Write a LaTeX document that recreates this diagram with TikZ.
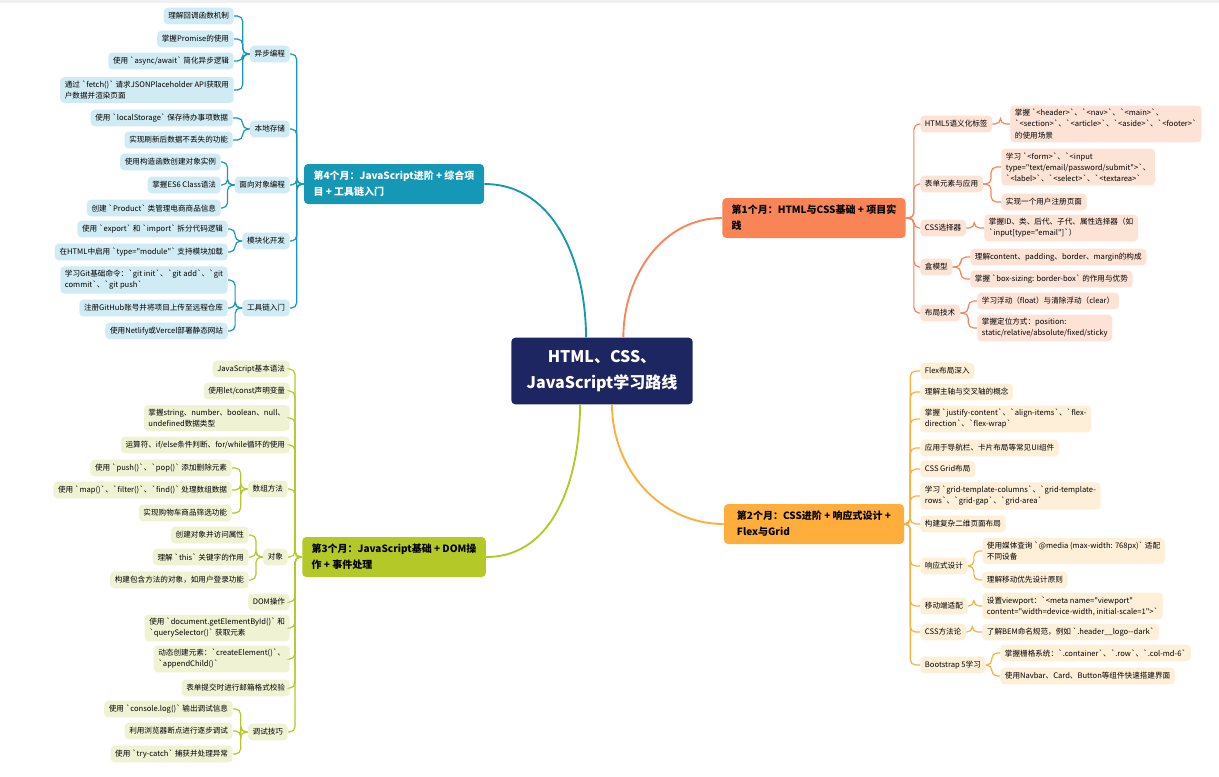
\documentclass[tikz,border=0pt]{standalone}
\usepackage{fontspec}
\newfontfamily\cjk{Noto Sans CJK SC}
\usepackage{xcolor}
\usepackage{tikz}
\usetikzlibrary{calc}
\definecolor{navy}{HTML}{1E2661}
\definecolor{tlD}{HTML}{1597B6}
\definecolor{tlL}{HTML}{D0EBF3}
\definecolor{crD}{HTML}{F98456}
\definecolor{crL}{HTML}{FDE2D6}
\definecolor{ywD}{HTML}{FFAE3C}
\definecolor{ywL}{HTML}{FEF0D8}
\definecolor{gnD}{HTML}{B4C828}
\definecolor{gnL}{HTML}{EFF3D4}

\begin{document}
\begin{tikzpicture}[x=0.75pt, y=-0.75pt,
  leaf/.style={fill=#1, rounded corners=3pt, inner xsep=3.5pt, inner ysep=2.8pt, minimum height=12.5pt, align=left, text=black, font=\cjk\fontsize{5.7}{8.3}\selectfont},
  month/.style={fill=#1, rounded corners=3pt, inner xsep=7pt, inner ysep=5pt, minimum width=135pt, minimum height=30pt, align=left, font=\cjk\bfseries\fontsize{7.5}{12}\selectfont},
  lnk/.style={draw=#1, line width=0.9pt, rounded corners=4pt},
  trunk/.style={draw=#1, line width=1.4pt}]
\useasboundingbox (0,0) rectangle (1219,776);
\fill[gray!12] (0,0) rectangle (1219,3);
% centre
\node[fill=navy, rounded corners=3pt, minimum width=136pt, minimum height=50pt, align=center, text=white, font=\cjk\bfseries\fontsize{12}{20}\selectfont] (c) at (602,371) {HTML、CSS、\\JavaScript学习路线};
\node[month=tlD, text=white] (b4) at (394,184) {第4个月：JavaScript进阶 + 综合项\\目 + 工具链入门};
\node[month=crD] (b1) at (814,218) {第1个月：HTML与CSS基础 + 项目实\\践};
\node[month=ywD] (b2) at (814,524) {第2个月：CSS进阶 + 响应式设计 +\\Flex与Grid};
\node[month=gnD] (b3) at (394,557) {第3个月：JavaScript基础 + DOM操\\作 + 事件处理};
\draw[trunk=tlD] ([xshift=-12pt]c.north) to[out=90, in=0] (b4.east);
\draw[trunk=crD] ([xshift=16pt]c.north) to[out=90, in=180] (b1.west);
\draw[trunk=ywD] ([xshift=7.5pt]c.south) to[out=-90, in=180] (b2.west);
\draw[trunk=gnD] ([xshift=-16.5pt]c.south) to[out=-90, in=0] (b3.east);

% month 4
\node[leaf=tlL, anchor=east] (t1) at (290,54) {异步编程};
\node[leaf=tlL, anchor=east] (t2) at (290,129) {本地存储};
\node[leaf=tlL, anchor=east] (t3) at (290,185) {面向对象编程};
\node[leaf=tlL, anchor=east] (t4) at (290,241) {模块化开发};
\node[leaf=tlL, anchor=east] (t5) at (290,308) {工具链入门};
\node[leaf=tlL, anchor=east] (t11) at (234,16) {理解回调函数机制};
\node[leaf=tlL, anchor=east] (t12) at (234,39) {掌握Promise的使用};
\node[leaf=tlL, anchor=east] (t13) at (234,61) {使用 `async/await` 简化异步逻辑};
\node[leaf=tlL, anchor=east] (t14) at (234,90) {通过 `fetch()` 请求JSONPlaceholder API获取用\\户数据并渲染页面};
\node[leaf=tlL, anchor=east] (t21) at (233,118) {使用 `localStorage` 保存待办事项数据};
\node[leaf=tlL, anchor=east] (t22) at (233,140) {实现刷新后数据不丢失的功能};
\node[leaf=tlL, anchor=east] (t31) at (221,162) {使用构造函数创建对象实例};
\node[leaf=tlL, anchor=east] (t32) at (221,185) {掌握ES6 Class语法};
\node[leaf=tlL, anchor=east] (t33) at (221,208) {创建 `Product` 类管理电商商品信息};
\node[leaf=tlL, anchor=east] (t41) at (228,229) {使用 `export` 和 `import` 拆分代码逻辑};
\node[leaf=tlL, anchor=east] (t42) at (228,252) {在HTML中启用 `type="module"` 支持模块加载};
\node[leaf=tlL, anchor=east] (t51) at (228,280) {学习Git基础命令：`git init`、`git add`、`git\\commit`、`git push`};
\node[leaf=tlL, anchor=east] (t52) at (228,308) {注册GitHub账号并将项目上传至远程仓库};
\node[leaf=tlL, anchor=east] (t53) at (228,331) {使用Netlify或Vercel部署静态网站};
\foreach \a/\b in {b4/t1,b4/t2,b4/t3,b4/t4,b4/t5,t1/t11,t1/t12,t1/t13,t1/t14,t2/t21,t2/t22,t3/t31,t3/t32,t3/t33,t4/t41,t4/t42,t5/t51,t5/t52,t5/t53}
  \draw[lnk=tlD] (\a.west) -- ++(-7,0) |- (\b.east);

% month 3
\node[leaf=gnL, anchor=east] (g1) at (290,369) {JavaScript基本语法};
\node[leaf=gnL, anchor=east] (g2) at (290,391) {使用let/const声明变量};
\node[leaf=gnL, anchor=east] (g3) at (290,418) {掌握string、number、boolean、null、\\undefined数据类型};
\node[leaf=gnL, anchor=east] (g4) at (290,445) {运算符、if/else条件判断、for/while循环的使用};
\node[leaf=gnL, anchor=east] (g5) at (288,489) {数组方法};
\node[leaf=gnL, anchor=east] (g6) at (288,557) {对象};
\node[leaf=gnL, anchor=east] (g7) at (290,602) {DOM操作};
\node[leaf=gnL, anchor=east] (g8) at (290,628) {使用 `document.getElementById()` 和\\`querySelector()` 获取元素};
\node[leaf=gnL, anchor=east] (g9) at (290,659) {动态创建元素：`createElement()`、\\`appendChild()`};
\node[leaf=gnL, anchor=east] (g10) at (290,688) {表单提交时进行邮箱格式校验};
\node[leaf=gnL, anchor=east] (g11) at (288,732) {调试技巧};
\node[leaf=gnL, anchor=east] (g51) at (232,468) {使用 `push()`、`pop()` 添加删除元素};
\node[leaf=gnL, anchor=east] (g52) at (232,490) {使用 `map()`、`filter()`、`find()` 处理数组数据};
\node[leaf=gnL, anchor=east] (g53) at (232,513) {实现购物车商品筛选功能};
\node[leaf=gnL, anchor=east] (g61) at (249,535) {创建对象并访问属性};
\node[leaf=gnL, anchor=east] (g62) at (249,557) {理解 `this` 关键字的作用};
\node[leaf=gnL, anchor=east] (g63) at (249,580) {构建包含方法的对象，如用户登录功能};
\node[leaf=gnL, anchor=east] (g111) at (233,709) {使用 `console.log()` 输出调试信息};
\node[leaf=gnL, anchor=east] (g112) at (233,731) {利用浏览器断点进行逐步调试};
\node[leaf=gnL, anchor=east] (g113) at (233,754) {使用 `try-catch` 捕获并处理异常};
\foreach \a/\b in {b3/g1,b3/g2,b3/g3,b3/g4,b3/g5,b3/g6,b3/g7,b3/g8,b3/g9,b3/g10,b3/g11,g5/g51,g5/g52,g5/g53,g6/g61,g6/g62,g6/g63,g11/g111,g11/g112,g11/g113}
  \draw[lnk=gnD] (\a.west) -- ++(-7,0) |- (\b.east);

% month 1
\node[leaf=crL, anchor=west] (o1) at (920,124) {HTML5语义化标签};
\node[leaf=crL, anchor=west] (o2) at (920,184) {表单元素与应用};
\node[leaf=crL, anchor=west] (o3) at (920,228) {CSS选择器};
\node[leaf=crL, anchor=west] (o4) at (920,267) {盒模型};
\node[leaf=crL, anchor=west] (o5) at (920,313) {布局技术};
\node[leaf=crL, anchor=west] (o11) at (1010,124) {掌握 `<header>`、`<nav>`、`<main>`、\\`<section>`、`<article>`、`<aside>`、`<footer>`\\的使用场景};
\node[leaf=crL, anchor=west] (o21) at (1001,167) {学习 `<form>`、`<input\\type="text/email/password/submit">`、\\`<label>`、`<select>`、`<textarea>`};
\node[leaf=crL, anchor=west] (o22) at (1001,202) {实现一个用户注册页面};
\node[leaf=crL, anchor=west] (o31) at (984,228) {掌握ID、类、后代、子代、属性选择器（如\\`input[type="email"]`）};
\node[leaf=crL, anchor=west] (o41) at (970,257) {理解content、padding、border、margin的构成};
\node[leaf=crL, anchor=west] (o42) at (970,279) {掌握 `box-sizing: border-box` 的作用与优势};
\node[leaf=crL, anchor=west] (o51) at (977,301) {学习浮动（float）与清除浮动（clear）};
\node[leaf=crL, anchor=west] (o52) at (977,328) {掌握定位方式：position:\\static/relative/absolute/fixed/sticky};
\foreach \a/\b in {b1/o1,b1/o2,b1/o3,b1/o4,b1/o5,o1/o11,o2/o21,o2/o22,o3/o31,o4/o41,o4/o42,o5/o51,o5/o52}
  \draw[lnk=crD] (\a.east) -- ++(8,0) |- (\b.west);

% month 2
\node[leaf=ywL, anchor=west] (y1) at (920,371) {Flex布局深入};
\node[leaf=ywL, anchor=west] (y2) at (920,392) {理解主轴与交叉轴的概念};
\node[leaf=ywL, anchor=west] (y3) at (920,419) {掌握 `justify-content`、`align-items`、`flex-\\direction`、`flex-wrap`};
\node[leaf=ywL, anchor=west] (y4) at (920,448) {应用于导航栏、卡片布局等常见UI组件};
\node[leaf=ywL, anchor=west] (y5) at (920,469) {CSS Grid布局};
\node[leaf=ywL, anchor=west] (y6) at (920,496) {学习 `grid-template-columns`、`grid-template-\\rows`、`grid-gap`、`grid-area`};
\node[leaf=ywL, anchor=west] (y7) at (920,524) {构建复杂二维页面布局};
\node[leaf=ywL, anchor=west] (y8) at (920,566) {响应式设计};
\node[leaf=ywL, anchor=west] (y9) at (920,606) {移动端适配};
\node[leaf=ywL, anchor=west] (y10) at (920,632) {CSS方法论};
\node[leaf=ywL, anchor=west] (y11) at (920,665) {Bootstrap 5学习};
\node[leaf=ywL, anchor=west] (y81) at (982,551) {使用媒体查询 `@media (max-width: 768px)` 适配\\不同设备};
\node[leaf=ywL, anchor=west] (y82) at (982,580) {理解移动优先设计原则};
\node[leaf=ywL, anchor=west] (y91) at (982,606) {设置viewport：`<meta name="viewport"\\content="width=device-width, initial-scale=1">`};
\node[leaf=ywL, anchor=west] (y101) at (982,632) {了解BEM命名规范，例如 `.header\_\_logo--dark`};
\node[leaf=ywL, anchor=west] (y111) at (1000,653) {掌握栅格系统：`.container`、`.row`、`.col-md-6`};
\node[leaf=ywL, anchor=west] (y112) at (1000,676) {使用Navbar、Card、Button等组件快速搭建界面};
\foreach \a/\b in {b2/y1,b2/y2,b2/y3,b2/y4,b2/y5,b2/y6,b2/y7,b2/y8,b2/y9,b2/y10,b2/y11,y8/y81,y8/y82,y9/y91,y10/y101,y11/y111,y11/y112}
  \draw[lnk=ywD] (\a.east) -- ++(6,0) |- (\b.west);
\end{tikzpicture}
\end{document}
